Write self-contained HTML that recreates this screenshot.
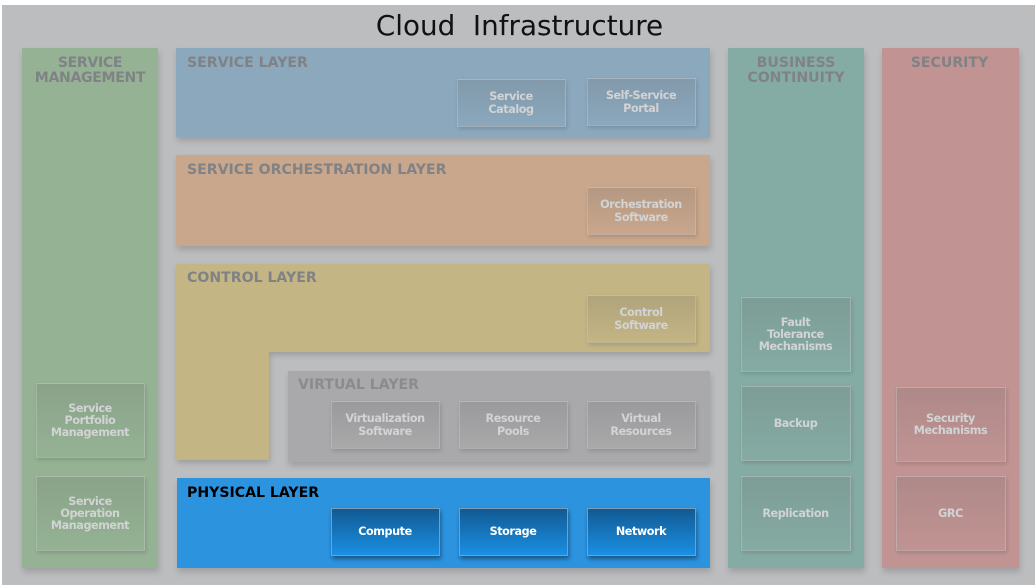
<!DOCTYPE html>
<html><head><meta charset="utf-8">
<style>
html,body{margin:0;padding:0;background:#fff}
#p{position:relative;width:1035px;height:585px;overflow:hidden;background:#fff;font-family:"DejaVu Sans","Liberation Sans",sans-serif}
#bg{position:absolute;left:2px;top:5px;width:1033px;height:580px;background:#bcbdbf}
.a{position:absolute}
.s{box-shadow:1px 4px 6px rgba(0,0,0,.16)}
.h{position:absolute;font-weight:bold;font-size:14.1px;line-height:15px;color:#808285;white-space:nowrap;filter:blur(.3px)}
.c{text-align:center}
.b{position:absolute;box-sizing:border-box;border:1px solid rgba(200,200,200,.45);padding-right:1px;padding-top:1px;display:flex;align-items:center;justify-content:center;text-align:center;font-weight:bold;font-size:11.2px;line-height:12.3px;letter-spacing:-.42px;color:#d2d3d4;box-shadow:1px 2px 4px rgba(0,0,0,.14);background:linear-gradient(to bottom,rgba(90,90,90,.18),rgba(90,90,90,0));filter:blur(.25px)}
.k{color:#fff;border:1px solid #7d9db8;background:linear-gradient(to bottom,#125a92,#1a90e4);box-shadow:1px 3px 4px rgba(0,0,0,.4)}
</style></head><body><div id="p">
<div id="bg"></div>
<div class="a" style="left:3px;top:11px;width:1033px;text-align:center;font-size:27.8px;line-height:30px;color:#111;white-space:pre">Cloud  Infrastructure</div>

<div class="a s" style="left:22px;top:48px;width:136px;height:520px;background:#95b394"></div>
<div class="a s" style="left:176px;top:48px;width:534px;height:89px;background:#8ba8bd"></div>
<div class="a s" style="left:176px;top:155px;width:534px;height:91px;background:#c9a78c"></div>
<svg class="a" style="left:0;top:0;filter:drop-shadow(1px 3px 3px rgba(0,0,0,.17))" width="1035" height="585"><polygon points="176,264 710,264 710,352 269,352 269,460 176,460" fill="#c4b584"/></svg>
<div class="a s" style="left:288px;top:371px;width:422px;height:91px;background:#a9a9ab"></div>
<div class="a s" style="left:177px;top:478px;width:533px;height:90px;background:#2c93df"></div>
<div class="a s" style="left:728px;top:48px;width:136px;height:520px;background:#85aca4"></div>
<div class="a s" style="left:882px;top:48px;width:137px;height:520px;background:#c19493"></div>

<div class="h c" style="left:22px;top:56px;width:136px;letter-spacing:-.35px">SERVICE<br>MANAGEMENT</div>
<div class="h" style="left:187px;top:56px">SERVICE LAYER</div>
<div class="h" style="left:187px;top:163px">SERVICE ORCHESTRATION LAYER</div>
<div class="h" style="left:187px;top:271px">CONTROL LAYER</div>
<div class="h" style="left:298px;top:378px;color:#8b8b8d">VIRTUAL LAYER</div>
<div class="h" style="left:187px;top:486px;color:#000">PHYSICAL LAYER</div>
<div class="h c" style="left:728px;top:56px;width:136px">BUSINESS<br>CONTINUITY</div>
<div class="h c" style="left:882px;top:56px;width:135px">SECURITY</div>

<div class="b" style="left:457px;top:79px;width:109px;height:48px">Service<br>Catalog</div>
<div class="b" style="left:587px;top:78px;width:109px;height:48px">Self-Service<br>Portal</div>
<div class="b" style="left:587px;top:187px;width:109px;height:48px">Orchestration<br>Software</div>
<div class="b" style="left:587px;top:295px;width:109px;height:48px">Control<br>Software</div>
<div class="b" style="left:331px;top:401px;width:109px;height:48px">Virtualization<br>Software</div>
<div class="b" style="left:459px;top:401px;width:109px;height:48px">Resource<br>Pools</div>
<div class="b" style="left:587px;top:401px;width:109px;height:48px">Virtual<br>Resources</div>
<div class="b k" style="left:331px;top:508px;width:109px;height:48px">Compute</div>
<div class="b k" style="left:459px;top:508px;width:109px;height:48px">Storage</div>
<div class="b k" style="left:587px;top:508px;width:109px;height:48px">Network</div>
<div class="b" style="left:36px;top:383px;width:109px;height:75px">Service<br>Portfolio<br>Management</div>
<div class="b" style="left:36px;top:476px;width:109px;height:75px">Service<br>Operation<br>Management</div>
<div class="b" style="left:741px;top:297px;width:110px;height:75px">Fault<br>Tolerance<br>Mechanisms</div>
<div class="b" style="left:741px;top:386px;width:110px;height:75px">Backup</div>
<div class="b" style="left:741px;top:476px;width:110px;height:75px">Replication</div>
<div class="b" style="left:896px;top:387px;width:110px;height:75px">Security<br>Mechanisms</div>
<div class="b" style="left:896px;top:476px;width:110px;height:75px">GRC</div>
</div></body></html>
